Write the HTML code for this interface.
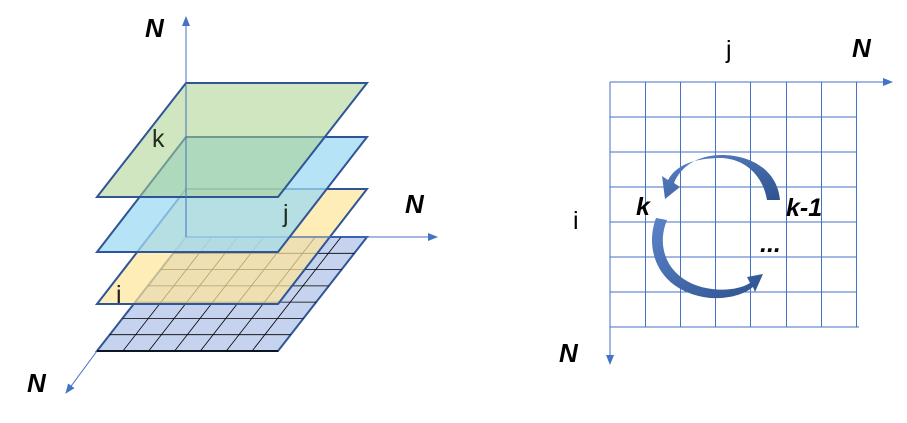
<!DOCTYPE html>
<html><head><style>
body{margin:0;width:907px;height:418px;background:#fff;overflow:hidden}
svg text{font-family:"Liberation Sans",sans-serif}
</style></head><body>
<svg width="907" height="418" viewBox="0 0 907 418">
<defs>
<marker id="a" markerWidth="10" markerHeight="8" refX="9" refY="4" orient="auto" markerUnits="userSpaceOnUse"><path d="M0,0L10,4L0,8z" fill="#4472c4"/></marker>
<linearGradient id="g" x1="0" y1="0" x2="1" y2="1"><stop offset="0" stop-color="#5b84c8"/><stop offset="1" stop-color="#2f528f"/></linearGradient>
</defs>
<line x1="186" y1="237" x2="186" y2="17" stroke="#4472c4" stroke-width="1" marker-end="url(#a)"/>
<line x1="97" y1="351" x2="66" y2="393" stroke="#4472c4" stroke-width="1" marker-end="url(#a)"/>
<polygon points="186,237 367,237 278,351 97,351" fill="#c5d3ee" stroke="#2f5597" stroke-width="2"/>
<g stroke="#000" stroke-width="0.8">
<line x1="173.3" y1="253.3" x2="354.3" y2="253.3"/><line x1="160.6" y1="269.6" x2="341.6" y2="269.6"/><line x1="147.9" y1="285.9" x2="328.9" y2="285.9"/><line x1="135.1" y1="302.1" x2="316.1" y2="302.1"/><line x1="122.4" y1="318.4" x2="303.4" y2="318.4"/><line x1="109.7" y1="334.7" x2="290.7" y2="334.7"/>
<line x1="211.9" y1="237" x2="122.9" y2="351"/><line x1="237.7" y1="237" x2="148.7" y2="351"/><line x1="263.6" y1="237" x2="174.6" y2="351"/><line x1="289.4" y1="237" x2="200.4" y2="351"/><line x1="315.3" y1="237" x2="226.3" y2="351"/><line x1="341.1" y1="237" x2="252.1" y2="351"/>
</g>
<line x1="97" y1="351" x2="278" y2="351" stroke="#000" stroke-width="1.5"/>
<polygon points="186,189 367,189 278,304 97,304" fill="#ffe699" fill-opacity="0.7" stroke="#2f5597" stroke-width="2"/>
<line x1="186" y1="237" x2="437" y2="237" stroke="#4472c4" stroke-width="1" marker-end="url(#a)"/>
<polygon points="186,137 367,137 278,252 97,252" fill="#9dd9f3" fill-opacity="0.75" stroke="#2f5597" stroke-width="2"/>
<polygon points="186,83 367,83 278,197 97,197" fill="#a9d18e" fill-opacity="0.55" stroke="#2f5597" stroke-width="2"/>
<line x1="186" y1="83" x2="186" y2="237" stroke="#4472c4" stroke-width="1"/>
<text x="152" y="147" font-size="25" fill="#1f2d1a">k</text>
<text x="283" y="222" font-size="25" fill="#1f2d1a">j</text>
<text x="116" y="303" font-size="25" fill="#222">i</text>
<text x="145" y="37" font-size="26" font-weight="bold" font-style="italic">N</text>
<text x="405" y="213" font-size="26" font-weight="bold" font-style="italic">N</text>
<text x="27" y="392" font-size="26" font-weight="bold" font-style="italic">N</text>
<g stroke="#4472c4" stroke-width="1">
<line x1="610" y1="117" x2="857" y2="117"/><line x1="610" y1="152" x2="857" y2="152"/><line x1="610" y1="187" x2="857" y2="187"/><line x1="610" y1="222" x2="857" y2="222"/><line x1="610" y1="257" x2="857" y2="257"/><line x1="610" y1="292" x2="857" y2="292"/><line x1="610" y1="327" x2="859" y2="327"/>
<line x1="645.5" y1="82" x2="645.5" y2="327"/><line x1="680.5" y1="82" x2="680.5" y2="327"/><line x1="715.5" y1="82" x2="715.5" y2="327"/><line x1="750.5" y1="82" x2="750.5" y2="327"/><line x1="786.5" y1="82" x2="786.5" y2="327"/><line x1="821.5" y1="82" x2="821.5" y2="327"/><line x1="856.5" y1="82" x2="856.5" y2="327"/>
</g>
<line x1="610" y1="82" x2="892" y2="82" stroke="#4472c4" stroke-width="1" marker-end="url(#a)"/>
<line x1="610" y1="82" x2="610" y2="364" stroke="#4472c4" stroke-width="1" marker-end="url(#a)"/>
<path d="M780,200 C777,168 748,155 722,155 C698,155 681,166 674,183 L680,187 L665,199 L662,176 L668,180 C678,162 700,158 722,158 C742,159 762,172 767,200 Z" fill="url(#g)"/>
<path d="M667,220 C654,252 672,284 712,289 C728,291 742,288 750,283 L747,277 L763,274 L755,292 L753,287 C742,296 725,299 710,298 C658,292 644,250 656,218 Z" fill="url(#g)"/>
<text x="726" y="58" font-size="25">j</text>
<text x="573" y="229" font-size="25">i</text>
<text x="852" y="57" font-size="26" font-weight="bold" font-style="italic">N</text>
<text x="559" y="362" font-size="26" font-weight="bold" font-style="italic">N</text>
<text x="636" y="215" font-size="25" font-weight="bold" font-style="italic">k</text>
<text x="786" y="216" font-size="25" font-weight="bold" font-style="italic">k-1</text>
<text x="760" y="252" font-size="25" font-weight="bold" font-style="italic">...</text>
</svg>
</body></html>
